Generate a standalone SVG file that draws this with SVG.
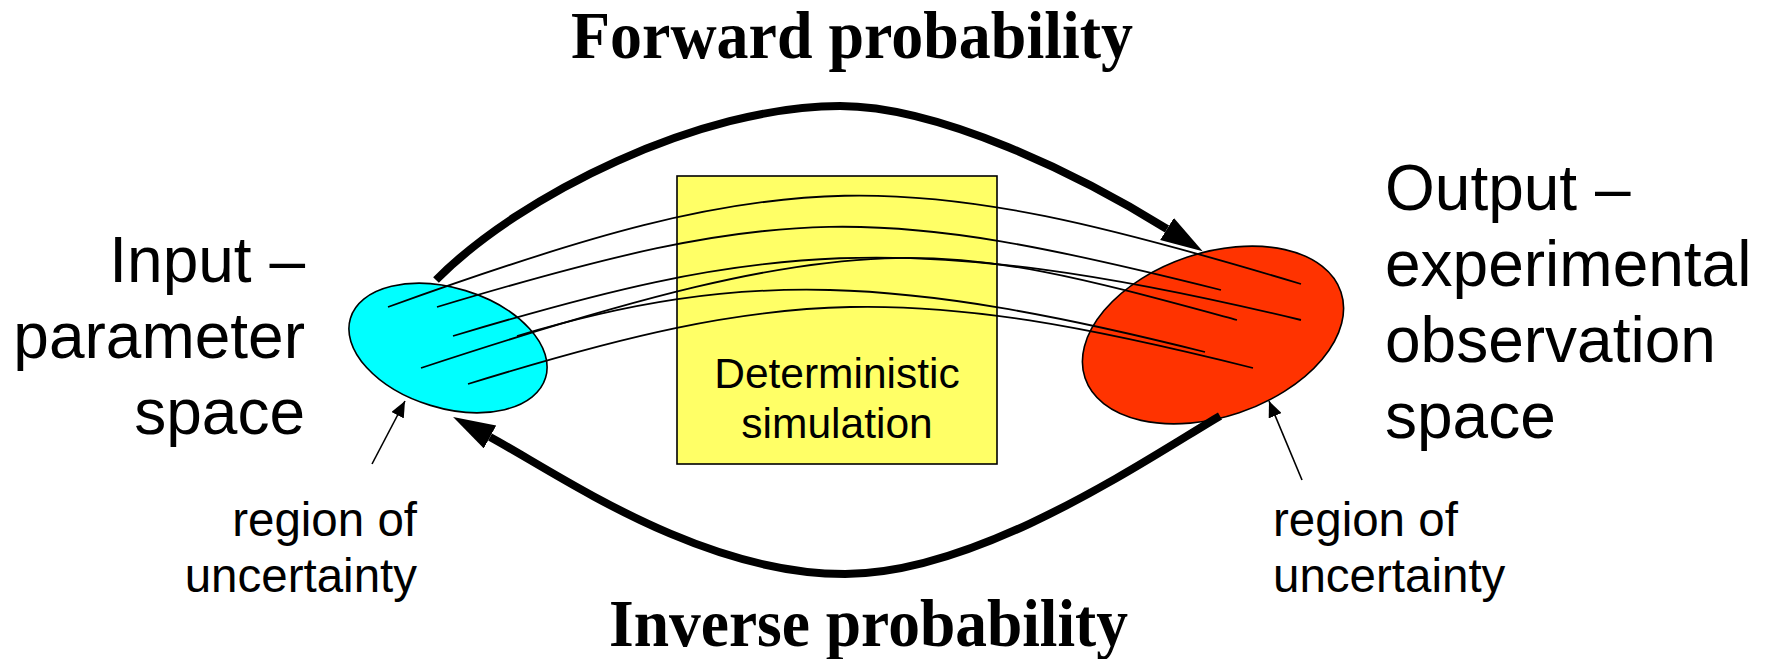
<svg xmlns="http://www.w3.org/2000/svg" width="1769" height="659" viewBox="0 0 1769 659">
<style>
.sans{font-family:"Liberation Sans",Arial,sans-serif;fill:#000}
.big{font-size:64px}
.small{font-size:47.5px}
.title{font-family:"Liberation Serif","Times New Roman",serif;font-weight:bold;font-size:68px;fill:#000}
.thin{fill:none;stroke:#000;stroke-width:1.8}
.thick{fill:none;stroke:#000;stroke-width:8}
.ptr{fill:none;stroke:#000;stroke-width:1.6}
.shape{stroke:#000;stroke-width:1.6}
</style>
<defs>
<marker id="bigHead" markerUnits="userSpaceOnUse" markerWidth="44" markerHeight="28" refX="0" refY="13" orient="auto">
<path d="M0,0 L42,13 L0,26 Z" fill="#000"/>
</marker>
<marker id="smallHead" markerUnits="userSpaceOnUse" markerWidth="18" markerHeight="14" refX="16" refY="7" orient="auto">
<path d="M0,0 L16,7 L0,14 Z" fill="#000"/>
</marker>
</defs>
<g id="input-space">
<ellipse class="shape" cx="448" cy="348" rx="102" ry="60" transform="rotate(17 448 348)" fill="#00FFFF"/>
</g>
<g id="output-space">
<ellipse class="shape" cx="1213" cy="335" rx="135" ry="82" transform="rotate(-18.6 1213 335)" fill="#FF3300"/>
</g>
<g id="simulation">
<rect class="shape" x="677" y="176" width="320" height="288" fill="#FFFF66"/>
<text class="sans" font-size="42.5" x="837" y="388" text-anchor="middle">Deterministic</text>
<text class="sans" font-size="42.5" x="837" y="438" text-anchor="middle">simulation</text>
</g>
<g id="connectors">
<path class="thin" d="M388,307 C790,162 899,163 1301,284"/>
<path class="thin" d="M437,307 C784,203 874,203 1221,290"/>
<path class="thin" d="M453,336 C753,246 901,224 1301,320"/>
<path class="thin" d="M421,368 C876,218 945,241 1237,320"/>
<path class="thin" d="M517,336 C741,269 898,275 1205,352"/>
<path class="thin" d="M468,384 C784,286 909,282 1253,368"/>
<path class="thick" d="M436,280 C520,195 700,106 840,106 C940,106 1080,175 1167,229" marker-end="url(#bigHead)"/>
<path class="thick" d="M1220,416 C1150,457 980,574 845,574 C700,574 560,475 490,437" marker-end="url(#bigHead)"/>
<line class="ptr" x1="372" y1="464" x2="405" y2="401" marker-end="url(#smallHead)"/>
<line class="ptr" x1="1302" y1="480" x2="1269" y2="401" marker-end="url(#smallHead)"/>
</g>
<g id="titles">
<text class="title" x="571" y="58" textLength="562" lengthAdjust="spacingAndGlyphs">Forward probability</text>
<text class="title" x="609" y="646" textLength="519" lengthAdjust="spacingAndGlyphs">Inverse probability</text>
</g>
<g id="input-label">
<text class="sans big" x="305" y="282" text-anchor="end">Input –</text>
<text class="sans big" x="305" y="358" text-anchor="end">parameter</text>
<text class="sans big" x="305" y="434" text-anchor="end">space</text>
</g>
<g id="output-label">
<text class="sans big" x="1385" y="210">Output –</text>
<text class="sans big" x="1385" y="286">experimental</text>
<text class="sans big" x="1385" y="362">observation</text>
<text class="sans big" x="1385" y="438">space</text>
</g>
<g id="input-uncertainty">
<text class="sans small" x="417" y="536" text-anchor="end">region of</text>
<text class="sans small" x="417" y="592" text-anchor="end">uncertainty</text>
</g>
<g id="output-uncertainty">
<text class="sans small" x="1273" y="536">region of</text>
<text class="sans small" x="1273" y="592">uncertainty</text>
</g>
</svg>
